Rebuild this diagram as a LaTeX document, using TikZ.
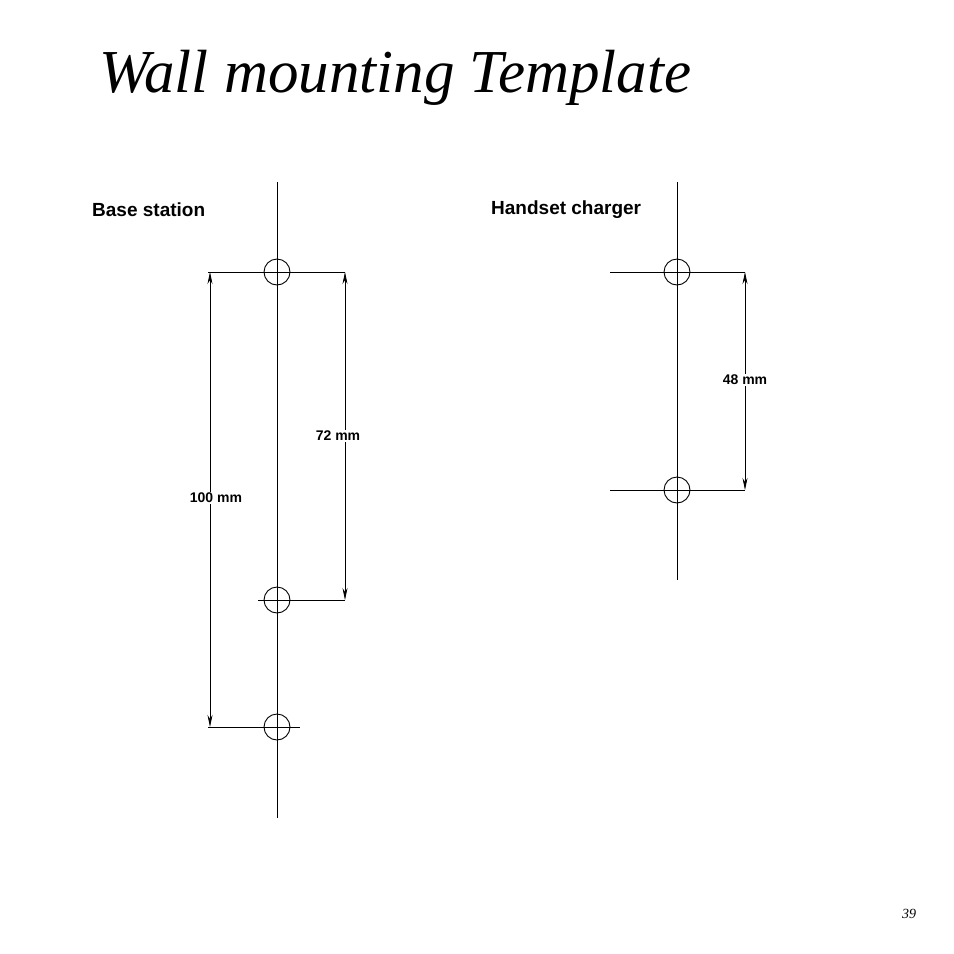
\documentclass[tikz,border=0pt]{standalone}
\usepackage{fontspec}
\setmainfont{Liberation Serif}
\setsansfont{Liberation Sans}
\usetikzlibrary{arrows.meta}
\tikzset{
  hole/.style={circle,draw,line width=0.9pt,minimum size=26pt,inner sep=0pt},
  guide/.style={line width=0.9pt},
  dim/.style={line width=0.9pt,{Stealth[length=12pt,width=5pt]}-{Stealth[length=12pt,width=5pt]}},
  dimlabel/.style={fill=white,inner sep=1pt,font=\sffamily\bfseries\fontsize{14}{16}\selectfont},
  heading/.style={anchor=west,font=\sffamily\bfseries\fontsize{19}{21}\selectfont}
}
\begin{document}
\begin{tikzpicture}[x=1pt,y=-1pt]
\useasboundingbox (0,0) rectangle (954,954);
\node (title) [anchor=base west,inner sep=0pt,font=\itshape\fontsize{61}{63}\selectfont] at (99,92) {Wall mounting Template};
\node (pagenum) [font=\itshape\fontsize{14}{16}\selectfont] at (909,914) {39};

% base station
\node (basehead) [heading,inner sep=0pt] at (92,210) {Base station};
\coordinate (btop) at (277,182);
\coordinate (bbot) at (277,818);
\draw[guide] (btop) -- (bbot);
\node (h1) [hole] at (277,272) {};
\node (h2) [hole] at (277,600) {};
\node (h3) [hole] at (277,727) {};
\coordinate (l1a) at (208,272); \coordinate (l1b) at (345,272);
\coordinate (l2a) at (258,600); \coordinate (l2b) at (345,600);
\coordinate (l3a) at (208,727); \coordinate (l3b) at (300,727);
\draw[guide] (l1a) -- (l1b);
\draw[guide] (l2a) -- (l2b);
\draw[guide] (l3a) -- (l3b);
\coordinate (d1a) at (210,272); \coordinate (d1b) at (210,727);
\coordinate (d2a) at (345,272); \coordinate (d2b) at (345,600);
\draw[dim] (d1a) -- (d1b);
\draw[dim] (d2a) -- (d2b);
\node (m100) [dimlabel] at (216,498) {100 mm};
\node (m72) [dimlabel] at (338,436) {72 mm};

% handset charger
\node (chghead) [heading,inner sep=0pt] at (491,210) {Handset charger};
\coordinate (ctop) at (677,182);
\coordinate (cbot) at (677,580);
\draw[guide] (ctop) -- (cbot);
\node (c1) [hole] at (677,272) {};
\node (c2) [hole] at (677,490) {};
\coordinate (k1a) at (610,272); \coordinate (k1b) at (745,272);
\coordinate (k2a) at (610,490); \coordinate (k2b) at (745,490);
\draw[guide] (k1a) -- (k1b);
\draw[guide] (k2a) -- (k2b);
\coordinate (e1) at (745,272); \coordinate (e2) at (745,490);
\draw[dim] (e1) -- (e2);
\node (m48) [dimlabel] at (745,380) {48 mm};
\end{tikzpicture}
\end{document}
